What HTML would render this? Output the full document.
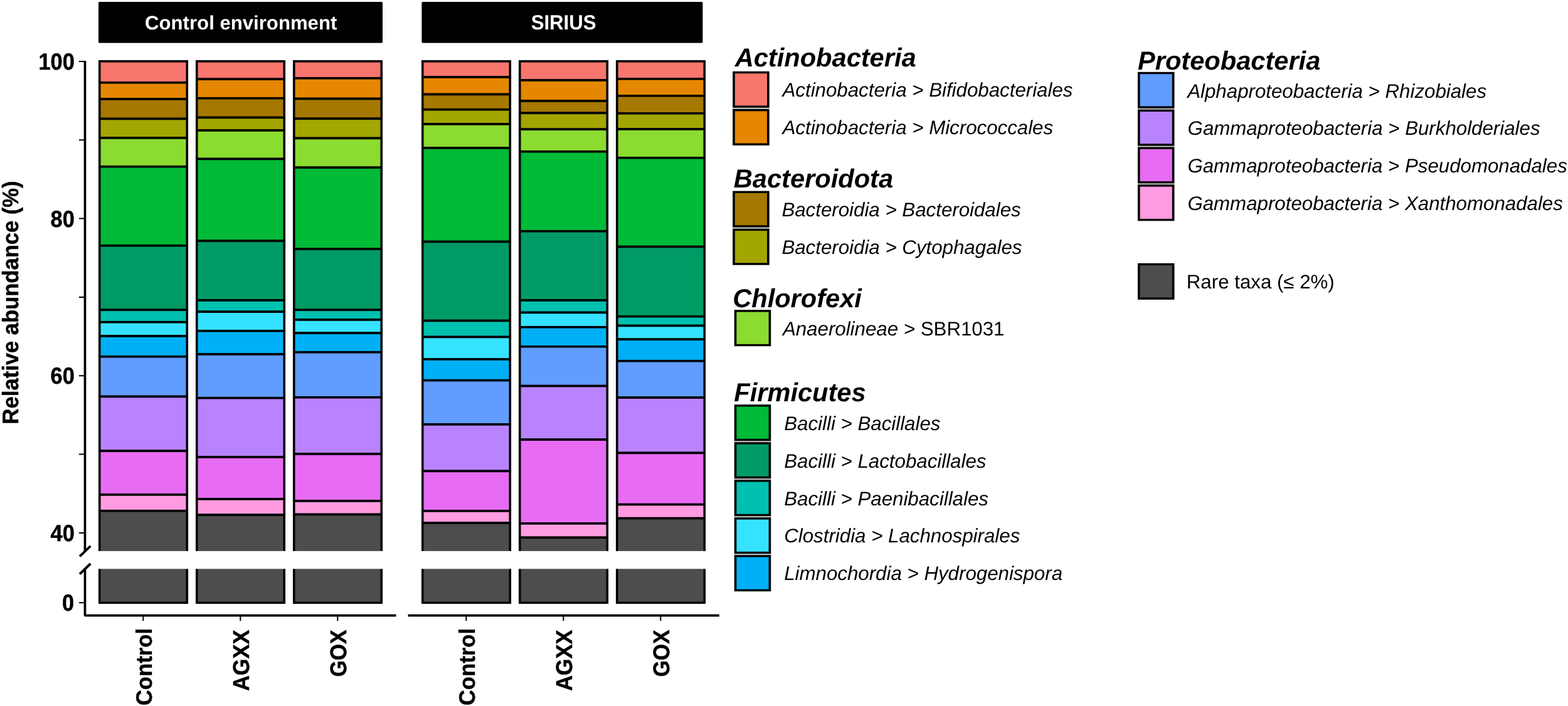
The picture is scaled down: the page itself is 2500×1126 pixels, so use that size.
<!DOCTYPE html>
<html lang="en"><head><meta charset="utf-8"><title>Relative abundance of bacterial orders</title>
<style>
html,body{margin:0;padding:0;background:#fff;}
body{width:2500px;height:1126px;overflow:hidden;}
svg{display:block;font-family:"Liberation Sans", sans-serif;text-rendering:geometricPrecision;}
.b{font-weight:bold;}
.i{font-style:italic;}
.ax{font-weight:bold;font-size:34.4px;fill:#000;stroke:#000;stroke-width:0.45px;stroke-linejoin:round;}
.hd{font-weight:bold;font-size:31.15px;fill:#fff;text-anchor:middle;}
.gt{font-weight:bold;font-style:italic;font-size:41.6px;fill:#000;}
.lb{font-size:31.25px;fill:#000;}
.seg{stroke:#000;stroke-width:3.6;stroke-linejoin:miter;}
.key{stroke:#000;stroke-width:3.4;}
</style></head><body>
<svg width="2500" height="1126" viewBox="0 0 2500 1126" role="img" aria-label="Stacked bar chart of relative abundance (%) of bacterial orders">
<rect x="0" y="0" width="2500" height="1126" fill="#fff"/>
<g id="strips">
<rect x="157" y="3" width="453" height="65.4" rx="1.6" fill="#000"/>
<text class="hd" transform="translate(384.2 47.4)">Control environment</text>
<rect x="672.4" y="3" width="448" height="65.4" rx="1.6" fill="#000"/>
<text class="hd" transform="translate(898.6 47.4) scale(1 1.06)">SIRIUS</text>
</g>
<g id="bars">
<g>
<rect class="seg" x="158.75" y="97.75" width="139.50" height="34.00" fill="#F8766D"/>
<rect class="seg" x="158.75" y="131.75" width="139.50" height="26.25" fill="#E58700"/>
<rect class="seg" x="158.75" y="158.00" width="139.50" height="31.50" fill="#A57800"/>
<rect class="seg" x="158.75" y="189.50" width="139.50" height="30.50" fill="#A3A500"/>
<rect class="seg" x="158.75" y="220.00" width="139.50" height="45.75" fill="#8CDB30"/>
<rect class="seg" x="158.75" y="265.75" width="139.50" height="126.00" fill="#00BA38"/>
<rect class="seg" x="158.75" y="391.75" width="139.50" height="102.50" fill="#009B64"/>
<rect class="seg" x="158.75" y="494.25" width="139.50" height="19.50" fill="#00C0AF"/>
<rect class="seg" x="158.75" y="513.75" width="139.50" height="22.25" fill="#35E2FF"/>
<rect class="seg" x="158.75" y="536.00" width="139.50" height="32.75" fill="#00B0F6"/>
<rect class="seg" x="158.75" y="568.75" width="139.50" height="63.75" fill="#619CFF"/>
<rect class="seg" x="158.75" y="632.50" width="139.50" height="86.75" fill="#B983FF"/>
<rect class="seg" x="158.75" y="719.25" width="139.50" height="69.75" fill="#E76BF3"/>
<rect class="seg" x="158.75" y="789.00" width="139.50" height="25.75" fill="#FF9BE1"/>
<rect class="seg" x="158.75" y="814.75" width="139.50" height="146.55" fill="#4D4D4D"/>
</g>
<g>
<rect class="seg" x="313.75" y="97.75" width="139.50" height="28.50" fill="#F8766D"/>
<rect class="seg" x="313.75" y="126.25" width="139.50" height="30.50" fill="#E58700"/>
<rect class="seg" x="313.75" y="156.75" width="139.50" height="30.75" fill="#A57800"/>
<rect class="seg" x="313.75" y="187.50" width="139.50" height="20.50" fill="#A3A500"/>
<rect class="seg" x="313.75" y="208.00" width="139.50" height="45.50" fill="#8CDB30"/>
<rect class="seg" x="313.75" y="253.50" width="139.50" height="130.75" fill="#00BA38"/>
<rect class="seg" x="313.75" y="384.25" width="139.50" height="94.75" fill="#009B64"/>
<rect class="seg" x="313.75" y="479.00" width="139.50" height="18.25" fill="#00C0AF"/>
<rect class="seg" x="313.75" y="497.25" width="139.50" height="30.50" fill="#35E2FF"/>
<rect class="seg" x="313.75" y="527.75" width="139.50" height="37.25" fill="#00B0F6"/>
<rect class="seg" x="313.75" y="565.00" width="139.50" height="69.75" fill="#619CFF"/>
<rect class="seg" x="313.75" y="634.75" width="139.50" height="94.25" fill="#B983FF"/>
<rect class="seg" x="313.75" y="729.00" width="139.50" height="67.00" fill="#E76BF3"/>
<rect class="seg" x="313.75" y="796.00" width="139.50" height="25.25" fill="#FF9BE1"/>
<rect class="seg" x="313.75" y="821.25" width="139.50" height="140.05" fill="#4D4D4D"/>
</g>
<g>
<rect class="seg" x="468.75" y="97.75" width="139.50" height="27.00" fill="#F8766D"/>
<rect class="seg" x="468.75" y="124.75" width="139.50" height="32.75" fill="#E58700"/>
<rect class="seg" x="468.75" y="157.50" width="139.50" height="31.75" fill="#A57800"/>
<rect class="seg" x="468.75" y="189.25" width="139.50" height="31.25" fill="#A3A500"/>
<rect class="seg" x="468.75" y="220.50" width="139.50" height="46.75" fill="#8CDB30"/>
<rect class="seg" x="468.75" y="267.25" width="139.50" height="130.00" fill="#00BA38"/>
<rect class="seg" x="468.75" y="397.25" width="139.50" height="97.00" fill="#009B64"/>
<rect class="seg" x="468.75" y="494.25" width="139.50" height="15.75" fill="#00C0AF"/>
<rect class="seg" x="468.75" y="510.00" width="139.50" height="21.25" fill="#35E2FF"/>
<rect class="seg" x="468.75" y="531.25" width="139.50" height="30.50" fill="#00B0F6"/>
<rect class="seg" x="468.75" y="561.75" width="139.50" height="72.00" fill="#619CFF"/>
<rect class="seg" x="468.75" y="633.75" width="139.50" height="90.25" fill="#B983FF"/>
<rect class="seg" x="468.75" y="724.00" width="139.50" height="75.00" fill="#E76BF3"/>
<rect class="seg" x="468.75" y="799.00" width="139.50" height="21.50" fill="#FF9BE1"/>
<rect class="seg" x="468.75" y="820.50" width="139.50" height="140.80" fill="#4D4D4D"/>
</g>
<g>
<rect class="seg" x="673.75" y="97.75" width="139.50" height="25.25" fill="#F8766D"/>
<rect class="seg" x="673.75" y="123.00" width="139.50" height="27.50" fill="#E58700"/>
<rect class="seg" x="673.75" y="150.50" width="139.50" height="24.25" fill="#A57800"/>
<rect class="seg" x="673.75" y="174.75" width="139.50" height="23.25" fill="#A3A500"/>
<rect class="seg" x="673.75" y="198.00" width="139.50" height="38.00" fill="#8CDB30"/>
<rect class="seg" x="673.75" y="236.00" width="139.50" height="149.50" fill="#00BA38"/>
<rect class="seg" x="673.75" y="385.50" width="139.50" height="126.00" fill="#009B64"/>
<rect class="seg" x="673.75" y="511.50" width="139.50" height="26.00" fill="#00C0AF"/>
<rect class="seg" x="673.75" y="537.50" width="139.50" height="35.50" fill="#35E2FF"/>
<rect class="seg" x="673.75" y="573.00" width="139.50" height="33.70" fill="#00B0F6"/>
<rect class="seg" x="673.75" y="606.70" width="139.50" height="70.20" fill="#619CFF"/>
<rect class="seg" x="673.75" y="676.90" width="139.50" height="74.50" fill="#B983FF"/>
<rect class="seg" x="673.75" y="751.40" width="139.50" height="63.50" fill="#E76BF3"/>
<rect class="seg" x="673.75" y="814.90" width="139.50" height="19.25" fill="#FF9BE1"/>
<rect class="seg" x="673.75" y="834.15" width="139.50" height="127.15" fill="#4D4D4D"/>
</g>
<g>
<rect class="seg" x="828.75" y="97.75" width="139.50" height="30.25" fill="#F8766D"/>
<rect class="seg" x="828.75" y="128.00" width="139.50" height="33.00" fill="#E58700"/>
<rect class="seg" x="828.75" y="161.00" width="139.50" height="19.30" fill="#A57800"/>
<rect class="seg" x="828.75" y="180.30" width="139.50" height="25.95" fill="#A3A500"/>
<rect class="seg" x="828.75" y="206.25" width="139.50" height="35.50" fill="#8CDB30"/>
<rect class="seg" x="828.75" y="241.75" width="139.50" height="127.00" fill="#00BA38"/>
<rect class="seg" x="828.75" y="368.75" width="139.50" height="110.25" fill="#009B64"/>
<rect class="seg" x="828.75" y="479.00" width="139.50" height="19.50" fill="#00C0AF"/>
<rect class="seg" x="828.75" y="498.50" width="139.50" height="23.25" fill="#35E2FF"/>
<rect class="seg" x="828.75" y="521.75" width="139.50" height="31.05" fill="#00B0F6"/>
<rect class="seg" x="828.75" y="552.80" width="139.50" height="62.80" fill="#619CFF"/>
<rect class="seg" x="828.75" y="615.60" width="139.50" height="85.55" fill="#B983FF"/>
<rect class="seg" x="828.75" y="701.15" width="139.50" height="133.75" fill="#E76BF3"/>
<rect class="seg" x="828.75" y="834.90" width="139.50" height="22.50" fill="#FF9BE1"/>
<rect class="seg" x="828.75" y="857.40" width="139.50" height="103.90" fill="#4D4D4D"/>
</g>
<g>
<rect class="seg" x="983.75" y="97.75" width="139.50" height="28.05" fill="#F8766D"/>
<rect class="seg" x="983.75" y="125.80" width="139.50" height="27.00" fill="#E58700"/>
<rect class="seg" x="983.75" y="152.80" width="139.50" height="28.00" fill="#A57800"/>
<rect class="seg" x="983.75" y="180.80" width="139.50" height="25.20" fill="#A3A500"/>
<rect class="seg" x="983.75" y="206.00" width="139.50" height="45.75" fill="#8CDB30"/>
<rect class="seg" x="983.75" y="251.75" width="139.50" height="141.75" fill="#00BA38"/>
<rect class="seg" x="983.75" y="393.50" width="139.50" height="111.25" fill="#009B64"/>
<rect class="seg" x="983.75" y="504.75" width="139.50" height="14.75" fill="#00C0AF"/>
<rect class="seg" x="983.75" y="519.50" width="139.50" height="21.75" fill="#35E2FF"/>
<rect class="seg" x="983.75" y="541.25" width="139.50" height="34.50" fill="#00B0F6"/>
<rect class="seg" x="983.75" y="575.75" width="139.50" height="58.40" fill="#619CFF"/>
<rect class="seg" x="983.75" y="634.15" width="139.50" height="88.25" fill="#B983FF"/>
<rect class="seg" x="983.75" y="722.40" width="139.50" height="82.25" fill="#E76BF3"/>
<rect class="seg" x="983.75" y="804.65" width="139.50" height="22.00" fill="#FF9BE1"/>
<rect class="seg" x="983.75" y="826.65" width="139.50" height="134.65" fill="#4D4D4D"/>
</g>
<rect x="150" y="878.9" width="985" height="28.40" fill="#fff"/>
</g>
<g id="axes" stroke="#000" fill="none">
<path d="M135.5 96.9V879" stroke-width="3.7"/>
<path d="M127.1 887.4L144.3 870.9" stroke-width="3.9"/>
<path d="M127.1 915.7L144.3 899.0" stroke-width="3.9"/>
<path d="M135.5 907.5V981.7H631.6" stroke-width="3.7" stroke-linejoin="bevel"/>
<path d="M650.6 981.7H1146.8" stroke-width="3.7"/>
<path d="M125.9 98H135M125.9 223.3H135M125.9 348.6H135M125.9 473.9H135M125.9 599.2H135M125.9 724.5H135M125.9 850H135M125.9 961.2H135" stroke-width="2"/>
<path d="M228.3 982V990.3M383.3 982V990.3M538.3 982V990.3M743.3 982V990.3M898.3 982V990.3M1053.3 982V990.3" stroke-width="2"/>
</g>
<g id="ylabels" text-anchor="end">
<text class="ax" transform="translate(118.8 110.9) scale(1 1.08)">100</text>
<text class="ax" transform="translate(118.8 361.5) scale(1 1.08)">80</text>
<text class="ax" transform="translate(118.8 612.1) scale(1 1.08)">60</text>
<text class="ax" transform="translate(118.8 862.9) scale(1 1.08)">40</text>
<text class="ax" transform="translate(118.1 974.1) scale(1 1.08)">0</text>
</g>
<text class="ax" transform="translate(29.2 482.4) rotate(-90) scale(1.005 1.045)" text-anchor="middle">Relative abundance (%)</text>
<g id="xlabels" text-anchor="end">
<text class="ax" transform="translate(241.7 1001.8) rotate(-90) scale(1.01 1.04)">Control</text>
<text class="ax" transform="translate(396.7 1004.5) rotate(-90) scale(1 1.06)">AGXX</text>
<text class="ax" transform="translate(551.7 1004.5) rotate(-90) scale(0.98 1.06)">GOX</text>
<text class="ax" transform="translate(756.7 1001.8) rotate(-90) scale(1.01 1.04)">Control</text>
<text class="ax" transform="translate(911.7 1004.5) rotate(-90) scale(1 1.06)">AGXX</text>
<text class="ax" transform="translate(1066.7 1004.5) rotate(-90) scale(0.98 1.06)">GOX</text>
</g>
<g id="legend">
<text class="gt" transform="translate(1171.7 106.3)">Actinobacteria</text>
<rect x="1168.15" y="171.60" width="58.5" height="2.5" fill="#c9c9c9"/>
<rect x="1168.15" y="113.80" width="58.5" height="58.0" fill="#000"/>
<rect x="1171.80" y="117.20" width="51.20" height="51.20" fill="#F8766D"/>
<text class="lb" transform="translate(1247.5 154.05)"><tspan class="i">Actinobacteria &gt; Bifidobacteriales</tspan></text>
<rect x="1168.15" y="173.90" width="58.5" height="58.0" fill="#000"/>
<rect x="1171.80" y="177.30" width="51.20" height="51.20" fill="#E58700"/>
<text class="lb" transform="translate(1247.5 213.8)"><tspan class="i">Actinobacteria &gt; Micrococcales</tspan></text>
<text class="gt" transform="translate(1169.8 299)">Bacteroidota</text>
<rect x="1168.15" y="362.40" width="58.5" height="2.5" fill="#c9c9c9"/>
<rect x="1168.15" y="304.60" width="58.5" height="58.0" fill="#000"/>
<rect x="1171.80" y="308.00" width="51.20" height="51.20" fill="#A57800"/>
<text class="lb" transform="translate(1246.4 344.85)"><tspan class="i">Bacteroidia &gt; Bacteroidales</tspan></text>
<rect x="1168.15" y="364.70" width="58.5" height="58.0" fill="#000"/>
<rect x="1171.80" y="368.10" width="51.20" height="51.20" fill="#A3A500"/>
<text class="lb" transform="translate(1246.4 405.2)"><tspan class="i">Bacteroidia &gt; Cytophagales</tspan></text>
<text class="gt" transform="translate(1168.2 490.1)">Chlorofexi</text>
<rect x="1170.70" y="494.20" width="58.5" height="58.0" fill="#000"/>
<rect x="1174.35" y="497.60" width="51.20" height="51.20" fill="#8CDB30"/>
<text class="lb" transform="translate(1247.9 535)"><tspan class="i">Anaerolineae &gt;</tspan> SBR1031</text>
<text class="gt" transform="translate(1170.25 640.3)">Firmicutes</text>
<rect x="1170.70" y="703.00" width="58.5" height="2.5" fill="#c9c9c9"/>
<rect x="1170.70" y="645.20" width="58.5" height="58.0" fill="#000"/>
<rect x="1174.35" y="648.60" width="51.20" height="51.20" fill="#00BA38"/>
<text class="lb" transform="translate(1250.2 685.65)"><tspan class="i">Bacilli &gt; Bacillales</tspan></text>
<rect x="1170.70" y="763.00" width="58.5" height="2.5" fill="#c9c9c9"/>
<rect x="1170.70" y="705.20" width="58.5" height="58.0" fill="#000"/>
<rect x="1174.35" y="708.60" width="51.20" height="51.20" fill="#009B64"/>
<text class="lb" transform="translate(1250.2 745.5)"><tspan class="i">Bacilli &gt; Lactobacillales</tspan></text>
<rect x="1170.70" y="823.00" width="58.5" height="2.5" fill="#c9c9c9"/>
<rect x="1170.70" y="765.20" width="58.5" height="58.0" fill="#000"/>
<rect x="1174.35" y="768.60" width="51.20" height="51.20" fill="#00C0AF"/>
<text class="lb" transform="translate(1250.2 805.55)"><tspan class="i">Bacilli &gt; Paenibacillales</tspan></text>
<rect x="1170.70" y="883.00" width="58.5" height="2.5" fill="#c9c9c9"/>
<rect x="1170.70" y="825.20" width="58.5" height="58.0" fill="#000"/>
<rect x="1174.35" y="828.60" width="51.20" height="51.20" fill="#35E2FF"/>
<text class="lb" transform="translate(1250.2 865.05)"><tspan class="i">Clostridia &gt; Lachnospirales</tspan></text>
<rect x="1170.70" y="885.20" width="58.5" height="58.0" fill="#000"/>
<rect x="1174.35" y="888.60" width="51.20" height="51.20" fill="#00B0F6"/>
<text class="lb" transform="translate(1250.2 925.05)"><tspan class="i">Limnochordia &gt; Hydrogenispora</tspan></text>
<text class="gt" transform="translate(1814 111.15)">Proteobacteria</text>
<rect x="1813.95" y="172.60" width="58.5" height="2.5" fill="#c9c9c9"/>
<rect x="1813.95" y="114.80" width="58.5" height="58.0" fill="#000"/>
<rect x="1817.60" y="118.20" width="51.20" height="51.20" fill="#619CFF"/>
<text class="lb" transform="translate(1893.2 155.5)"><tspan class="i">Alphaproteobacteria &gt; Rhizobiales</tspan></text>
<rect x="1813.95" y="232.45" width="58.5" height="2.5" fill="#c9c9c9"/>
<rect x="1813.95" y="174.65" width="58.5" height="58.0" fill="#000"/>
<rect x="1817.60" y="178.05" width="51.20" height="51.20" fill="#B983FF"/>
<text class="lb" transform="translate(1893.6 215)"><tspan class="i">Gammaproteobacteria &gt; Burkholderiales</tspan></text>
<rect x="1813.95" y="292.30" width="58.5" height="2.5" fill="#c9c9c9"/>
<rect x="1813.95" y="234.50" width="58.5" height="58.0" fill="#000"/>
<rect x="1817.60" y="237.90" width="51.20" height="51.20" fill="#E76BF3"/>
<text class="lb" transform="translate(1893.4 275.3)"><tspan class="i">Gammaproteobacteria &gt; Pseudomonadales</tspan></text>
<rect x="1813.95" y="294.35" width="58.5" height="58.0" fill="#000"/>
<rect x="1817.60" y="297.75" width="51.20" height="51.20" fill="#FF9BE1"/>
<text class="lb" transform="translate(1893.4 334.85)"><tspan class="i">Gammaproteobacteria &gt; Xanthomonadales</tspan></text>
<rect x="1813.95" y="419.85" width="58.5" height="58.0" fill="#000"/>
<rect x="1817.60" y="423.25" width="51.20" height="51.20" fill="#4D4D4D"/>
<text class="lb" transform="translate(1891.8 460.3)">Rare taxa (≤ 2%)</text>
</g>
</svg>
</body></html>
